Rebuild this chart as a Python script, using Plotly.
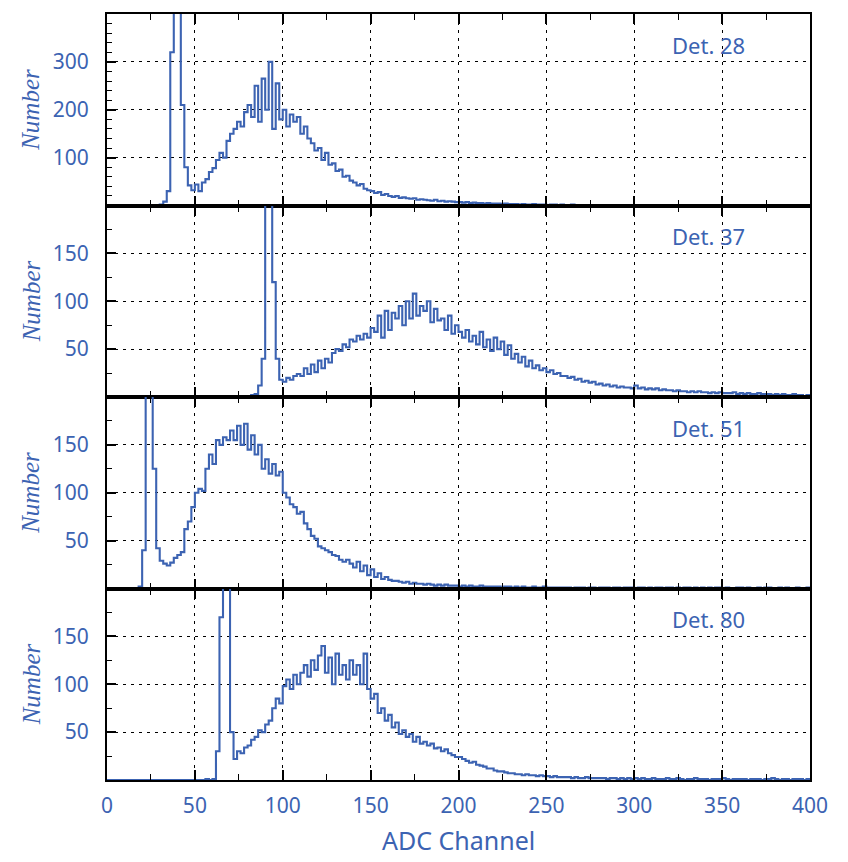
import numpy as np
import plotly.graph_objects as go
from plotly.subplots import make_subplots

# ---------------- data (counts per 2-channel bin, channels 0..398) ----------------
bin_width = 2
channel_start = 0
det_labels = ["Det. 28", "Det. 37", "Det. 51", "Det. 80"]

det28 = [
    0, 0, 0, 0, 0, 0, 0, 0, 0, 0,
    0, 0, 0, 0, 0, 2, 8, 30, 320, 900,
    900, 210, 80, 42, 32, 44, 30, 48, 55, 70,
    78, 95, 110, 100, 135, 150, 160, 175, 165, 195,
    210, 185, 250, 175, 265, 200, 300, 160, 255, 180,
    200, 165, 190, 175, 185, 150, 165, 140, 130, 115,
    120, 95, 110, 85, 88, 72, 75, 60, 62, 52,
    48, 42, 45, 35, 32, 30, 26, 28, 22, 24,
    20, 18, 20, 16, 17, 15, 14, 15, 12, 13,
    12, 11, 10, 12, 9, 10, 8, 9, 8, 7,
    7, 6, 7, 5, 6, 5, 5, 4, 5, 4,
    4, 4, 3, 4, 3, 3, 3, 2, 3, 2,
    2, 3, 2, 2, 2, 1, 2, 2, 1, 2,
    1, 1, 2, 1, 1, 1, 1, 0, 1, 1,
    1, 0, 1, 1, 0, 1, 0, 1, 1, 0,
    1, 0, 0, 1, 0, 0, 1, 0, 0, 0,
    0, 1, 0, 0, 1, 0, 1, 1, 0, 0,
    0, 0, 1, 0, 0, 0, 0, 1, 0, 0,
    0, 0, 0, 1, 0, 0, 0, 0, 0, 1,
    0, 0, 0, 0, 0, 1, 0, 0, 0, 0,
]

det37 = [
    0, 0, 0, 0, 0, 0, 0, 0, 0, 0,
    0, 0, 0, 0, 0, 0, 0, 0, 0, 0,
    0, 0, 0, 0, 0, 0, 0, 0, 0, 0,
    0, 0, 0, 0, 0, 0, 0, 0, 1, 1,
    1, 2, 3, 12, 40, 400, 400, 120, 40, 18,
    16, 20, 18, 22, 24, 22, 30, 24, 34, 26,
    38, 30, 40, 36, 46, 50, 48, 55, 52, 60,
    58, 64, 60, 66, 62, 72, 68, 85, 62, 90,
    70, 88, 82, 95, 75, 100, 82, 108, 85, 95,
    90, 100, 78, 92, 80, 82, 70, 85, 66, 75,
    68, 62, 70, 58, 64, 55, 68, 52, 60, 48,
    62, 50, 58, 44, 54, 40, 45, 36, 42, 32,
    38, 30, 33, 28, 30, 26, 28, 24, 25, 22,
    22, 20, 21, 18, 19, 16, 17, 15, 16, 13,
    14, 12, 13, 11, 12, 10, 11, 10, 10, 9,
    12, 9, 10, 8, 9, 8, 9, 7, 8, 7,
    7, 6, 7, 6, 6, 5, 6, 5, 6, 5,
    5, 4, 5, 4, 5, 4, 4, 4, 5, 3,
    4, 3, 4, 3, 3, 4, 3, 3, 3, 2,
    3, 2, 3, 2, 2, 3, 2, 2, 1, 2,
]

det51 = [
    0, 0, 0, 0, 0, 0, 0, 0, 0, 2,
    40, 400, 400, 125, 42, 29, 26, 24, 27, 32,
    35, 38, 62, 70, 85, 100, 104, 102, 125, 140,
    130, 155, 150, 158, 155, 165, 155, 170, 150, 172,
    145, 160, 140, 150, 125, 135, 120, 130, 118, 122,
    100, 95, 88, 85, 78, 80, 68, 62, 55, 52,
    44, 42, 40, 38, 35, 34, 30, 28, 30, 26,
    22, 28, 18, 24, 14, 20, 12, 16, 10, 12,
    9, 8, 8, 7, 6, 7, 5, 6, 5, 5,
    4, 5, 4, 3, 4, 3, 4, 3, 3, 3,
    2, 3, 2, 3, 2, 2, 3, 2, 2, 2,
    2, 2, 1, 2, 2, 1, 2, 1, 2, 1,
    1, 2, 1, 1, 2, 1, 1, 1, 1, 1,
    1, 1, 0, 1, 1, 1, 0, 1, 1, 0,
    1, 1, 1, 0, 1, 1, 0, 1, 1, 1,
    0, 1, 1, 0, 1, 0, 1, 1, 0, 1,
    1, 0, 1, 0, 1, 1, 0, 1, 0, 1,
    0, 1, 0, 1, 1, 0, 1, 0, 0, 1,
    1, 0, 1, 0, 0, 1, 0, 1, 1, 0,
    0, 1, 0, 1, 0, 0, 1, 0, 0, 1,
]

det80 = [
    0, 0, 0, 0, 0, 0, 0, 0, 0, 0,
    0, 0, 0, 0, 0, 0, 0, 0, 0, 0,
    0, 0, 0, 0, 0, 0, 0, 0, 1, 0,
    1, 30, 170, 400, 400, 50, 22, 30, 28, 34,
    36, 42, 45, 52, 50, 58, 62, 75, 85, 80,
    98, 105, 95, 110, 100, 112, 120, 108, 125, 115,
    130, 140, 112, 128, 100, 132, 110, 120, 105, 125,
    110, 120, 100, 132, 95, 85, 90, 70, 75, 62,
    68, 55, 60, 48, 52, 45, 48, 40, 45, 38,
    40, 36, 38, 33, 34, 30, 32, 28, 26, 24,
    24, 22, 20, 18, 19, 16, 15, 14, 12, 12,
    10, 9, 9, 8, 7, 7, 6, 6, 5, 6,
    5, 5, 4, 5, 4, 4, 3, 4, 3, 3,
    3, 3, 2, 3, 2, 2, 3, 2, 2, 2,
    2, 2, 1, 2, 2, 1, 2, 1, 2, 1,
    2, 1, 2, 1, 1, 2, 1, 1, 1, 2,
    1, 1, 2, 1, 0, 1, 1, 2, 1, 1,
    1, 0, 1, 1, 1, 2, 1, 0, 1, 1,
    1, 1, 0, 1, 1, 1, 0, 1, 1, 2,
    1, 0, 1, 1, 0, 1, 1, 1, 0, 1,
]

series = [det28, det37, det51, det80]
y_ranges = [[0, 400], [0, 200], [0, 200], [0, 200]]
y_tickvals = [[100, 200, 300], [50, 100, 150], [50, 100, 150], [50, 100, 150]]
y_minor = [20, 25, 25, 25]
x_range = [0, 400]
x_tickvals = [0, 50, 100, 150, 200, 250, 300, 350, 400]
x_title = "ADC Channel"
y_title = "Number"

# ---------------- styling ----------------
BLUE = "#3c63b2"
SANS = "'Noto Sans', 'Open Sans', 'DejaVu Sans', sans-serif"
SERIF = "'Liberation Serif', 'DejaVu Serif', serif"

fig = make_subplots(rows=4, cols=1, shared_xaxes=True, vertical_spacing=0)

for i, counts in enumerate(series):
    row = i + 1
    edges = channel_start + bin_width * np.arange(len(counts) + 1)
    yvals = list(counts) + [counts[-1]]
    fig.add_trace(
        go.Scatter(x=edges, y=yvals, mode="lines", line_shape="hv",
                   line=dict(color=BLUE, width=2.1), showlegend=False,
                   hoverinfo="skip"),
        row=row, col=1)
    fig.update_yaxes(
        range=y_ranges[i], tickvals=y_tickvals[i], ticks="inside", ticklen=9,
        tickwidth=1.5, tickcolor="black",
        minor=dict(dtick=y_minor[i], ticks="inside", ticklen=5, tickwidth=1,
                   tickcolor="black", showgrid=False),
        showgrid=True, gridcolor="black", gridwidth=1.3, griddash="3px,5px",
        zeroline=False, showline=True, linecolor="black", linewidth=2,
        mirror=True, tickfont=dict(family=SANS, size=21, color=BLUE),
        ticklabelstandoff=12, row=row, col=1)
    fig.update_xaxes(
        range=x_range, tickvals=x_tickvals, ticks="inside", ticklen=10,
        tickwidth=1.5, tickcolor="black",
        minor=dict(dtick=25, ticks="inside", ticklen=6, tickwidth=1,
                   tickcolor="black", showgrid=False),
        showgrid=True, gridcolor="black", gridwidth=1.3, griddash="3px,5px",
        zeroline=False, showline=True, linecolor="black", linewidth=2,
        mirror="ticks", tickfont=dict(family=SANS, size=21, color=BLUE),
        ticklabelstandoff=6, showticklabels=(row == 4), row=row, col=1)

    yref = "y domain" if row == 1 else f"y{row} domain"
    xref = "x" if row == 1 else f"x{row}"
    fig.add_annotation(x=342, y=1 - 31 / 192, xref=xref, yref=yref,
                       text=det_labels[i], showarrow=False,
                       font=dict(family=SANS, size=22, color=BLUE),
                       xanchor="center", yanchor="middle")
    fig.add_annotation(x=-0.108, y=0.5, xref="paper", yref=yref,
                       text=f"<i>{y_title}</i>", showarrow=False, textangle=-90,
                       font=dict(family=SERIF, size=25, color=BLUE),
                       xanchor="center", yanchor="middle")

fig.add_annotation(x=0.5, y=-0.078, xref="paper", yref="paper",
                   text=x_title, showarrow=False,
                   font=dict(family=SANS, size=25, color=BLUE),
                   xanchor="center", yanchor="middle")

fig.update_layout(
    width=848, height=862,
    margin=dict(l=107, r=38, t=12, b=82),
    paper_bgcolor="white", plot_bgcolor="white",
)

fig.write_html("out.html")
